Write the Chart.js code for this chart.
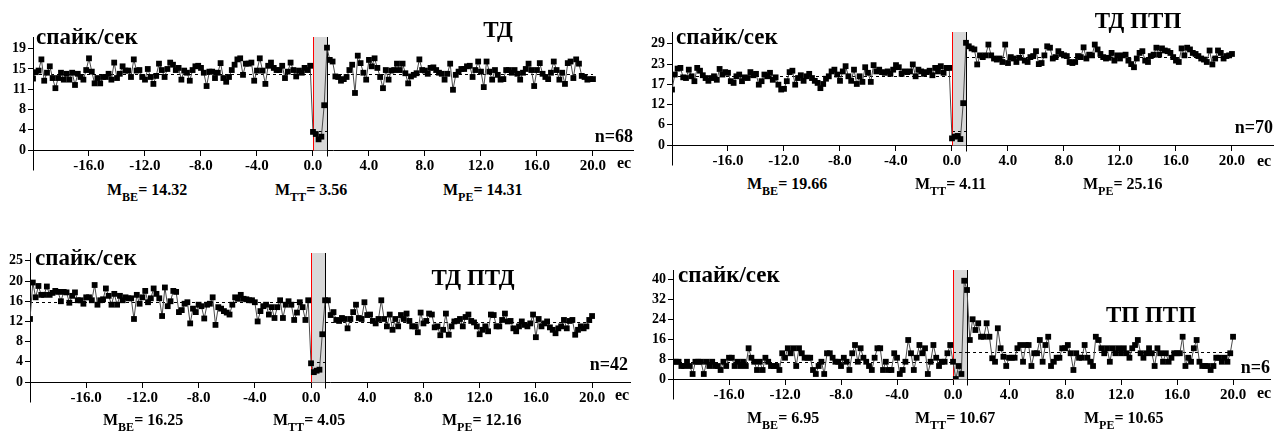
<!DOCTYPE html>
<html>
<head>
<meta charset="utf-8">
<script src="https://cdn.jsdelivr.net/npm/chart.js@4.4.1/dist/chart.umd.min.js"></script>
<style>
    body { margin: 0; background: #fff; width: 1274px; height: 434px; position: relative; overflow: hidden;
           font-family: "Liberation Serif", "Times New Roman", serif; font-weight: bold; color: #000; }
    canvas { position: absolute; }
    .t { position: absolute; white-space: nowrap; line-height: 1; }
    .t sub { font-size: 12px; vertical-align: -6px; line-height: 1; }
</style>
</head>
<body>
<script>
// 0.2 s bins: pre ends at -0.2, stimulus 0..0.8, post starts at 1.0
const binSec = 0.2;
const stimEnd = 1.0;
const xTickValues = [-16, -12, -8, -4, 0, 4, 8, 12, 16, 20];
const yUnitLabel = 'спайк/сек';

// ТД
const tdPre = [
    13.4, 14.6, 14.9, 17.0, 13.0, 14.5, 15.7, 13.5, 11.6, 13.5,
    14.5, 13.2, 14.3, 13.2, 14.5, 12.2, 14.3, 13.7, 13.2, 15.0,
    17.2, 14.7, 12.5, 13.5, 12.5, 13.7, 13.7, 14.3, 13.2, 16.4,
    13.5, 14.3, 15.7, 14.9, 14.9, 13.7, 17.0, 14.9, 15.0, 13.7,
    13.2, 15.2, 13.7, 12.4, 13.9, 16.2, 15.0, 13.7, 15.2, 16.4,
    16.0, 15.0, 15.4, 13.2, 14.9, 14.5, 13.0, 15.0, 15.7, 15.8,
    15.4, 14.5, 12.0, 14.7, 14.7, 13.5, 14.5, 16.3, 13.5, 12.8,
    13.7, 15.0, 16.0, 17.0, 17.2, 14.1, 16.2, 16.2, 16.4, 13.0,
    14.9, 17.2, 14.9, 12.4, 15.8, 16.4, 15.4, 15.0, 15.0, 15.8,
    13.5, 14.7, 16.4, 15.0, 13.8, 14.9, 14.5, 15.4, 15.0, 15.8
];
const tdStim = [3.4, 3.0, 2.0, 2.5, 8.4];
const tdPost = [
    19.2, 16.9, 16.6, 13.8, 13.7, 13.0, 13.3, 13.7, 15.0, 16.0,
    10.7, 17.7, 16.3, 14.5, 13.2, 16.9, 15.7, 17.2, 15.4, 13.7,
    11.6, 15.0, 13.2, 14.9, 15.0, 16.2, 15.0, 16.2, 14.4, 12.5,
    13.8, 14.1, 14.4, 17.0, 15.0, 14.9, 14.3, 15.4, 15.5, 15.0,
    14.5, 14.3, 13.2, 14.3, 16.2, 11.3, 14.1, 14.7, 15.2, 15.2,
    15.7, 15.8, 13.7, 15.0, 16.6, 14.7, 11.8, 16.6, 14.7, 13.2,
    15.0, 14.1, 13.2, 13.3, 15.0, 15.0, 14.5, 15.0, 14.3, 13.2,
    14.5, 15.2, 16.2, 15.0, 12.0, 15.0, 16.3, 14.3, 13.7, 13.3,
    14.5, 16.6, 15.0, 13.2, 14.5, 12.4, 16.3, 16.6, 13.5, 17.0,
    16.2, 13.9, 13.7, 13.2, 13.3, 13.3
];
const tdMeans = [14.32, 3.56, 14.31];
const tdYTicks = [0, 3.8, 7.6, 11.4, 15.2, 19];
const tdYLabels = ['0', '4', '8', '11', '15', '19'];

// ТД ПТП
const tdptpPre = [
    15.9, 20.2, 21.9, 22.1, 19.4, 19.2, 21.6, 19.7, 18.3, 22.1,
    21.3, 20.0, 19.2, 18.4, 19.2, 19.7, 18.7, 21.8, 20.2, 20.9,
    20.7, 18.3, 17.8, 19.7, 20.2, 18.3, 19.4, 19.2, 20.9, 20.0,
    20.4, 17.3, 18.3, 20.2, 19.7, 20.7, 18.7, 19.4, 17.3, 15.9,
    16.1, 18.3, 20.9, 21.3, 17.3, 19.2, 20.0, 18.4, 19.7, 20.4,
    19.2, 18.4, 17.8, 16.3, 17.5, 19.0, 19.7, 21.1, 21.6, 20.2,
    18.4, 21.1, 22.6, 19.7, 18.4, 21.6, 17.5, 19.7, 18.1, 22.3,
    20.7, 18.1, 22.9, 21.1, 21.6, 20.9, 20.7, 21.1, 20.4, 21.6,
    22.9, 22.3, 20.4, 21.1, 20.9, 21.1, 23.1, 19.7, 21.6, 21.1,
    20.4, 20.9, 21.3, 20.0, 22.1, 21.1, 22.6, 20.7, 22.1, 22.1
];
const tdptpStim = [1.9, 2.4, 2.6, 1.7, 12.0];
const tdptpPost = [
    29.3, 28.3, 27.7, 27.4, 23.1, 25.7, 25.2, 25.7, 28.8, 25.7,
    24.8, 24.5, 24.8, 23.8, 28.8, 23.5, 25.2, 24.8, 23.8, 25.0,
    26.9, 24.2, 23.8, 25.2, 25.5, 26.9, 23.2, 23.5, 25.7, 28.3,
    27.9, 24.8, 25.2, 26.9, 26.1, 25.7, 25.5, 23.8, 23.5, 23.8,
    25.5, 25.2, 28.0, 24.8, 25.9, 25.7, 28.8, 27.4, 26.1, 25.2,
    24.8, 25.0, 26.4, 24.2, 25.7, 24.8, 25.7, 25.9, 24.2, 23.2,
    22.3, 24.8, 26.4, 26.9, 24.2, 23.8, 25.5, 25.9, 27.9, 25.9,
    27.7, 27.1, 26.9, 26.4, 25.2, 24.2, 23.8, 27.7, 25.7, 27.9,
    27.4, 26.4, 26.1, 25.5, 24.8, 24.5, 23.8, 27.1, 23.1, 24.8,
    27.1, 26.4, 24.8, 25.5, 25.7, 26.1
];
const tdptpMeans = [19.66, 4.11, 25.16];
const tdptpYTicks = [0, 5.8, 11.6, 17.4, 23.2, 29];
const tdptpYLabels = ['0', '6', '12', '17', '23', '29'];

// ТД ПТД
const tdptdPre = [
    12.8, 20.2, 17.2, 19.5, 17.7, 17.7, 19.4, 17.7, 18.1, 18.5,
    18.3, 16.4, 18.3, 18.2, 16.1, 17.5, 18.2, 16.6, 16.6, 15.9,
    17.2, 17.2, 16.6, 19.7, 15.7, 16.6, 16.8, 19.0, 17.5, 15.7,
    17.9, 15.7, 17.5, 16.6, 17.2, 17.0, 17.0, 12.8, 17.7, 15.9,
    17.2, 18.5, 16.2, 17.0, 19.0, 17.9, 17.0, 13.4, 19.2, 15.4,
    16.4, 18.5, 18.3, 14.2, 14.6, 15.9, 16.2, 11.9, 14.9, 14.2,
    15.7, 15.4, 12.9, 15.7, 15.9, 17.2, 11.6, 15.2, 14.9, 14.4,
    14.1, 13.7, 15.7, 17.2, 16.9, 17.7, 16.9, 16.8, 16.6, 16.6,
    16.2, 12.3, 14.4, 15.4, 15.7, 13.7, 15.2, 13.0, 15.2, 16.6,
    13.0, 15.7, 16.4, 15.7, 12.6, 14.1, 16.2, 15.2, 12.6, 16.6
];
const tdptdStim = [3.8, 2.0, 2.3, 2.5, 9.7];
const tdptdPost = [
    16.6, 16.6, 13.6, 14.2, 12.6, 12.4, 13.0, 12.8, 10.9, 12.8,
    14.2, 15.7, 13.0, 12.8, 16.2, 13.6, 13.7, 12.4, 11.9, 12.8,
    16.6, 12.8, 11.3, 13.7, 10.6, 12.8, 11.3, 13.6, 12.8, 13.9,
    12.4, 11.3, 11.3, 10.1, 14.1, 11.9, 12.4, 13.9, 13.7, 11.1,
    11.3, 9.5, 10.6, 13.9, 9.6, 11.3, 12.3, 12.4, 12.8, 11.3,
    13.2, 13.7, 12.4, 12.1, 11.3, 9.7, 10.6, 11.3, 10.3, 13.7,
    13.6, 11.3, 11.3, 12.6, 13.9, 12.3, 12.4, 10.9, 10.3, 11.3,
    12.3, 11.6, 11.3, 11.9, 13.7, 9.1, 12.8, 11.3, 11.9, 12.3,
    11.1, 10.6, 9.9, 10.9, 11.3, 12.6, 10.9, 12.4, 12.6, 9.6,
    10.6, 11.3, 10.9, 11.3, 12.6, 13.4
];
const tdptdMeans = [16.25, 4.05, 12.16];
const tdptdYTicks = [0, 4.1, 8.2, 12.3, 16.4, 20.5, 24.6];
const tdptdYLabels = ['0', '4', '8', '12', '16', '20', '25'];

// ТП ПТП
const tpptpPre = [
    6.9, 6.9, 6.9, 5.2, 5.2, 6.9, 5.2, 2.0, 6.9, 6.9,
    6.9, 2.0, 6.9, 5.2, 6.9, 5.2, 5.2, 3.6, 6.9, 5.2,
    8.5, 8.5, 5.2, 6.9, 5.2, 6.9, 5.2, 12.3, 8.5, 6.9,
    3.6, 6.9, 3.6, 8.5, 6.9, 5.2, 5.2, 5.2, 3.6, 10.3,
    8.5, 12.3, 10.3, 12.3, 5.2, 12.3, 10.3, 8.5, 8.5, 8.5,
    3.6, 2.0, 5.2, 6.9, 2.0, 10.3, 10.3, 8.5, 6.9, 6.9,
    5.2, 8.5, 6.9, 3.6, 10.3, 13.6, 6.9, 12.3, 8.5, 6.9,
    5.2, 3.6, 8.5, 12.3, 12.3, 3.6, 6.9, 3.6, 3.6, 10.3,
    8.5, 2.0, 3.6, 6.9, 15.6, 10.3, 3.6, 8.5, 13.6, 10.3,
    12.3, 2.0, 6.9, 13.6, 8.5, 5.2, 6.9, 6.9, 10.3, 13.6
];
const tpptpStim = [6.9, 0, 5.2, 2.0, 39.3];
const tpptpPost = [
    35.6, 15.6, 23.9, 19.6, 22.3, 16.9, 16.9, 22.3, 16.9, 8.3,
    6.9, 20.3, 12.3, 8.9, 5.2, 8.5, 8.5, 8.5, 12.3, 13.6,
    6.9, 13.6, 13.6, 5.2, 10.3, 10.3, 15.6, 6.9, 13.6, 16.9,
    5.2, 6.9, 8.5, 8.5, 12.3, 12.3, 13.6, 10.3, 3.6, 10.3,
    8.5, 8.5, 13.6, 8.5, 6.9, 5.2, 16.9, 15.6, 12.3, 10.3,
    12.3, 6.9, 12.3, 10.3, 12.3, 10.3, 12.3, 10.3, 8.5, 12.3,
    13.6, 15.6, 10.3, 8.5, 10.3, 12.3, 10.3, 5.2, 12.3, 10.3,
    6.9, 10.3, 6.9, 8.5, 10.3, 10.3, 10.3, 16.9, 5.2, 8.5,
    6.9, 12.3, 15.6, 6.9, 5.2, 5.2, 5.2, 3.6, 5.2, 8.5,
    8.5, 6.9, 8.5, 6.9, 10.3, 16.9
];
const tpptpMeans = [6.95, 10.67, 10.65];
const tpptpYTicks = [0, 8, 16, 24, 32, 40];
const tpptpYLabels = ['0', '8', '16', '24', '32', '40'];

const panels = [
    { title: 'ТД', n: 68, pre: tdPre, stim: tdStim, post: tdPost, means: tdMeans,
      yTicks: tdYTicks, yLabels: tdYLabels, xMax: 22.86, yMax: 21.2,
      box: { left: 0, top: 0, width: 640, height: 180 }, pad: { left: 0, top: 37, right: 7, bottom: 0 }, yW: 33,
      text: { unit: [36, 44], title: [498, 37], n: [633, 142], ec: [617, 168], m: [[107, 275, 443], 195] } },
    { title: 'ТД ПТП', n: 70, pre: tdptpPre, stim: tdptpStim, post: tdptpPost, means: tdptpMeans,
      yTicks: tdptpYTicks, yLabels: tdptpYLabels, xMax: 22.93, yMax: 32.4,
      box: { left: 640, top: 0, width: 634, height: 175 }, pad: { left: 0, top: 32, right: 1, bottom: 0 }, yW: 32,
      text: { unit: [676, 44], title: [1138, 28], n: [1273, 133], ec: [1257, 166], m: [[747, 915, 1083], 189] } },
    { title: 'ТД ПТД', n: 42, pre: tdptdPre, stim: tdptdStim, post: tdptdPost, means: tdptdMeans,
      yTicks: tdptdYTicks, yLabels: tdptdYLabels, xMax: 22.7, yMax: 26.2,
      box: { left: 0, top: 230, width: 640, height: 182 }, pad: { left: 0, top: 23, right: 10, bottom: 0 }, yW: 30,
      text: { unit: [35, 265], title: [473, 285], n: [628, 370], ec: [615, 400], m: [[103, 273, 442], 425] } },
    { title: 'ТП ПТП', n: 6, pre: tpptpPre, stim: tpptpStim, post: tpptpPost, means: tpptpMeans,
      yTicks: tpptpYTicks, yLabels: tpptpYLabels, xMax: 22.64, yMax: 43.6,
      box: { left: 640, top: 230, width: 634, height: 179 }, pad: { left: 0, top: 40, right: 4, bottom: 0 }, yW: 33,
      text: { unit: [678, 282], title: [1151, 322], n: [1270, 373], ec: [1257, 398], m: [[747, 915, 1084], 423] } }
];

const mNames = ['BE', 'TT', 'PE'];
const serif = "'Liberation Serif', 'Times New Roman', serif";

function toPoints(pre, stim, post) {
    const pts = [];
    pre.forEach((v, k) => pts.push({ x: +(-(pre.length - k) * binSec).toFixed(1), y: v }));
    stim.forEach((v, k) => pts.push({ x: +(k * binSec).toFixed(1), y: v }));
    post.forEach((v, k) => pts.push({ x: +(stimEnd + k * binSec).toFixed(1), y: v }));
    return pts;
}

// place text by its baseline (line-height 1 => baseline at ~0.8375em)
function addText(html, x, baseline, size, align) {
    const d = document.createElement('div');
    d.className = 't';
    d.innerHTML = html;
    d.style.fontSize = size + 'px';
    d.style.top = (baseline - 0.8375 * size).toFixed(1) + 'px';
    if (align === 'center') {
        d.style.left = x + 'px';
        d.style.transform = 'translateX(-50%)';
    } else if (align === 'right') {
        d.style.right = (1274 - x) + 'px';
    } else {
        d.style.left = x + 'px';
    }
    document.body.appendChild(d);
}

const decor = {
    id: 'decor',
    beforeDatasetsDraw(chart, args, opts) {
        const { ctx, chartArea: a, scales: { x, y } } = chart;
        const x0 = Math.round(x.getPixelForValue(0)) + 0.5;
        const x1 = Math.round(x.getPixelForValue(stimEnd)) + 0.5;
        const yb = Math.round(y.getPixelForValue(0)) + 0.5;
        ctx.save();
        // stimulus window
        ctx.fillStyle = '#d8d8d8';
        ctx.fillRect(x0, a.top, x1 - x0, yb - a.top);
        // mean levels
        ctx.strokeStyle = '#000';
        ctx.lineWidth = 1;
        ctx.setLineDash([3, 3]);
        const segs = [[-20, 0], [0, stimEnd], [stimEnd, 20]];
        segs.forEach((s, i) => {
            const py = Math.round(y.getPixelForValue(opts.means[i])) + 0.5;
            ctx.beginPath();
            ctx.moveTo(x.getPixelForValue(s[0]), py);
            ctx.lineTo(x.getPixelForValue(s[1]), py);
            ctx.stroke();
        });
        ctx.setLineDash([]);
        // stimulus onset / offset
        ctx.strokeStyle = '#ff0000';
        ctx.beginPath();
        ctx.moveTo(x0, a.top);
        ctx.lineTo(x0, yb);
        ctx.stroke();
        ctx.strokeStyle = '#000';
        ctx.beginPath();
        ctx.moveTo(x1, a.top);
        ctx.lineTo(x1, yb + 6);
        ctx.stroke();
        // y axis runs on below the time axis
        const xl = Math.round(a.left) + 0.5;
        ctx.beginPath();
        ctx.moveTo(xl, yb);
        ctx.lineTo(xl, yb + 20);
        ctx.stroke();
        ctx.restore();
    }
};

panels.forEach(p => {
    const c = document.createElement('canvas');
    c.width = p.box.width;
    c.height = p.box.height;
    c.style.left = p.box.left + 'px';
    c.style.top = p.box.top + 'px';
    c.style.width = p.box.width + 'px';
    c.style.height = p.box.height + 'px';
    document.body.appendChild(c);

    new Chart(c.getContext('2d'), {
        type: 'line',
        data: {
            datasets: [{
                data: toPoints(p.pre, p.stim, p.post),
                borderColor: '#4a4a4a',
                borderWidth: 1,
                tension: 0,
                pointStyle: 'rect',
                pointRadius: 4.1,
                pointBorderWidth: 0,
                pointBackgroundColor: '#000'
            }]
        },
        options: {
            responsive: false,
            animation: false,
            devicePixelRatio: 1,
            layout: { padding: p.pad, autoPadding: false },
            plugins: {
                legend: { display: false },
                tooltip: { enabled: false },
                decor: { means: p.means }
            },
            scales: {
                x: {
                    type: 'linear',
                    min: -20,
                    max: p.xMax,
                    afterBuildTicks: s => { s.ticks = xTickValues.map(v => ({ value: v })); },
                    afterFit: s => { s.height = 30; },
                    border: { display: true, color: '#000', width: 1 },
                    grid: { display: true, drawOnChartArea: false, drawTicks: true, tickLength: 6, color: '#000' },
                    ticks: {
                        autoSkip: false, maxRotation: 0, padding: 1, color: '#000',
                        font: { family: serif, size: 15, weight: 'bold' },
                        callback: v => Number(v).toFixed(1)
                    }
                },
                y: {
                    min: 0,
                    max: p.yMax,
                    afterBuildTicks: s => { s.ticks = p.yTicks.map(v => ({ value: v })); },
                    afterFit: s => { s.width = p.yW; },
                    border: { display: true, color: '#000', width: 1 },
                    grid: { display: true, drawOnChartArea: false, drawTicks: true, tickLength: 5, color: '#000' },
                    ticks: {
                        autoSkip: false, padding: 2, color: '#000',
                        font: { family: serif, size: 14, weight: 'bold' },
                        callback: (v, i) => p.yLabels[i]
                    }
                }
            }
        },
        plugins: [decor]
    });

    const t = p.text;
    addText(yUnitLabel, t.unit[0], t.unit[1], 23, 'left');
    addText(p.title, t.title[0], t.title[1], 23, 'center');
    addText('n=' + p.n, t.n[0], t.n[1], 18, 'right');
    addText('ec', t.ec[0], t.ec[1], 16, 'left');
    t.m[0].forEach((mx, i) => {
        addText('M<sub>' + mNames[i] + '</sub>= ' + p.means[i].toFixed(2), mx, t.m[1], 16, 'left');
    });
});
</script>
</body>
</html>
